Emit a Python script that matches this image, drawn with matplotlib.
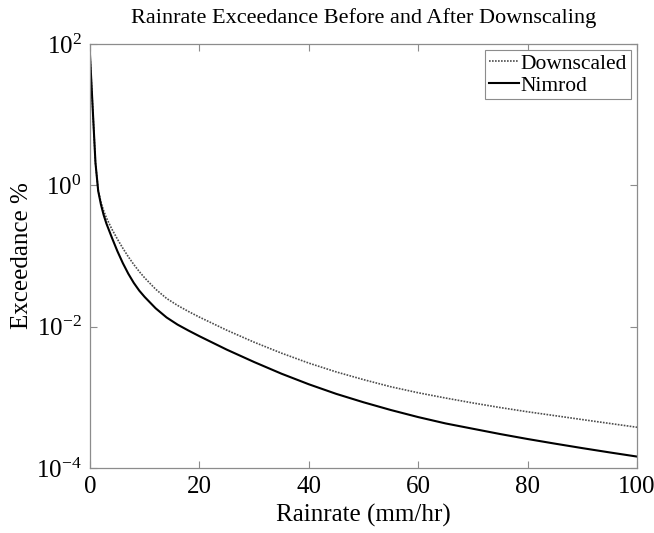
import numpy as np
import matplotlib
matplotlib.use('Agg')
from matplotlib import pyplot as plt
from matplotlib import ticker

plt.rcParams['font.family'] = ['Liberation Serif', 'DejaVu Serif']
plt.rcParams['mathtext.fontset'] = 'custom'
plt.rcParams['mathtext.rm'] = 'Liberation Serif'
plt.rcParams['mathtext.it'] = 'Liberation Serif'
plt.rcParams['axes.unicode_minus'] = False

# rainrate (mm/hr) and exceedance (%)
rain = [0, 1, 1.5, 2, 2.5, 3, 4, 5, 6, 7, 8, 9, 10, 12, 14, 16, 18, 20,
        25, 30, 35, 40, 45, 50, 55, 60, 65, 70, 75, 80, 85, 90, 95, 100]
nimrod = [70, 2.09, 0.832, 0.537, 0.380, 0.288, 0.182, 0.1175, 0.0794,
          0.0562, 0.0417, 0.0324, 0.0263, 0.0182, 0.0135, 0.0107, 0.00881,
          0.00733, 0.00473, 0.00316, 0.00216, 0.00153, 0.00112, 0.000851,
          0.000661, 0.000525, 0.000427, 0.000359, 0.000302, 0.000257,
          0.000221, 0.000191, 0.000166, 0.000145]
downscaled = [70, 2.09, 0.851, 0.575, 0.437, 0.347, 0.240, 0.174, 0.129,
              0.0977, 0.0759, 0.0603, 0.0490, 0.0339, 0.0251, 0.0200, 0.0164,
              0.01365, 0.00891, 0.00603, 0.00422, 0.00305, 0.00229, 0.00178,
              0.00141, 0.00116, 0.000977, 0.000832, 0.000716, 0.000624,
              0.000550, 0.000484, 0.000427, 0.000377]

yticks = [1e-4, 1e-2, 1e0, 1e2]
xticks = [0, 20, 40, 60, 80, 100]

fig = plt.figure(figsize=(6.54, 5.33), dpi=100)
ax = fig.add_axes([0.1376, 0.122, 0.8364, 0.7954])

ax.semilogy(rain, downscaled, color='0.3', linestyle=(0, (1, 0.8)),
            linewidth=1.2, label='Downscaled')
ax.semilogy(rain, nimrod, color='black', linewidth=1.5, label='Nimrod')

ax.set_xlim(0, 100)
ax.set_ylim(1e-4, 1e2)
ax.set_xticks(xticks)
ax.set_yticks(yticks)
ax.yaxis.set_major_formatter(ticker.LogFormatterMathtext())
ax.yaxis.set_minor_locator(ticker.NullLocator())

for s in ax.spines.values():
    s.set_color('0.55')
    s.set_linewidth(0.9)
ax.tick_params(direction='in', length=5, color='0.55', labelsize=18,
               top=True, right=True, pad=6)

ax.set_title('Rainrate Exceedance Before and After Downscaling',
             fontsize=16, pad=15)
ax.set_xlabel('Rainrate (mm/hr)', fontsize=18, labelpad=4)
ax.set_ylabel('Exceedance %', fontsize=18)
ax.yaxis.set_label_coords(-0.104, 0.5)

leg = ax.legend(loc='upper right', fontsize=15.5, handlelength=1.4,
                handletextpad=0.1, borderpad=0.15, borderaxespad=0.3,
                labelspacing=0.1, fancybox=False, framealpha=1)
leg.get_frame().set_edgecolor('0.55')
leg.get_frame().set_linewidth(0.8)

fig.savefig('out.png', dpi=100)
